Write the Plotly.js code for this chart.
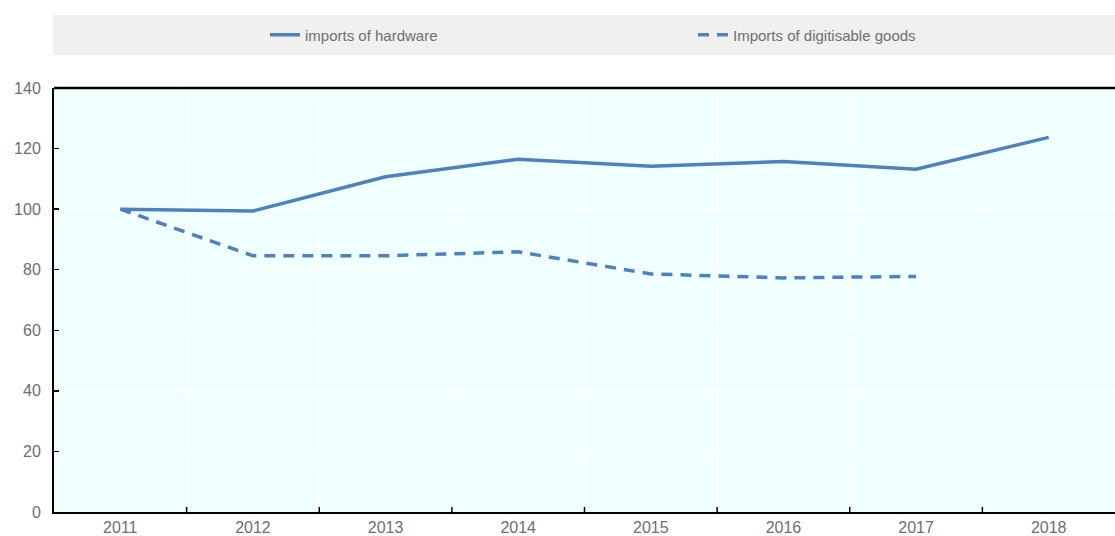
<!DOCTYPE html>
<html>
<head>
<meta charset="utf-8">
<script src="https://cdn.plot.ly/plotly-3.0.1.min.js"></script>
<style>html,body{margin:0;padding:0;background:#fff}#chart{width:1115px;height:536px}</style>
</head>
<body>
<div id="chart"></div>
<script>
const years = ["2011","2012","2013","2014","2015","2016","2017","2018"];
const hardware = [100, 99.4, 110.7, 116.5, 114.2, 115.7, 113.2, 123.7];
const digitisable = [100, 84.6, 84.6, 85.9, 78.6, 77.3, 77.8, null];
const yTicks = [0, 20, 40, 60, 80, 100, 120, 140];
const seriesNames = ["imports of hardware", "Imports of digitisable goods"];

const FONT = "'Liberation Sans Narrow', 'Arial Narrow', 'Liberation Sans', Arial, sans-serif";
const color = "#4F81BD";
const textGray = "#6E6E6E";

const traces = [
  {x: years, y: hardware, name: seriesNames[0], type: "scatter", mode: "lines",
   line: {color: color, width: 3.5}},
  {x: years, y: digitisable, name: seriesNames[1], type: "scatter", mode: "lines",
   line: {color: color, width: 3.5, dash: "11px,8px"}, connectgaps: false}
];

const layout = {
  width: 1115, height: 536,
  margin: {l: 54, r: 0, t: 88, b: 24, autoexpand: false},
  paper_bgcolor: "#ffffff",
  plot_bgcolor: "#F0FFFF",
  font: {family: FONT, color: textGray, size: 15},
  showlegend: true,
  legend: {
    orientation: "h", xref: "container", yref: "container",
    x: 0.6215, xanchor: "center", y: 1 - 35/536, yanchor: "middle",
    bgcolor: "rgba(0,0,0,0)", font: {family: FONT, size: 15, color: textGray},
    entrywidth: 383, entrywidthmode: "pixels"
  },
  xaxis: {
    type: "category", range: [-0.5, 7.5],
    showgrid: false, zeroline: false,
    showline: true, linecolor: "#000", linewidth: 2,
    ticks: "", tickfont: {family: FONT, size: 16, color: textGray},
    fixedrange: true
  },
  yaxis: {
    range: [0, 140], tickvals: yTicks, ticktext: yTicks.map(String),
    showgrid: true, gridcolor: "#ffffff", gridwidth: 1.5,
    zeroline: false, showline: true, linecolor: "#000", linewidth: 2,
    ticks: "inside", ticklen: 5, tickcolor: "#000", tickwidth: 1.5,
    tickfont: {family: FONT, size: 16, color: textGray},
    ticklabelstandoff: 8,
    fixedrange: true
  },
  shapes: [
    {type: "rect", xref: "paper", yref: "paper", x0: -0.001, x1: 1, y0: (512-55)/424, y1: (512-15)/424,
     fillcolor: "#F0F0F0", line: {width: 0}, layer: "below"},
    {type: "line", xref: "paper", yref: "paper", x0: 0, x1: 1, y0: 1, y1: 1,
     line: {color: "#000", width: 2.5}}
  ]
};

for (let i = 0; i < years.length - 1; i++) {
  layout.shapes.push({type: "line", xref: "x", yref: "paper", x0: i + 0.5, x1: i + 0.5, y0: 0, y1: 1,
    line: {color: "#ffffff", width: 1.5}, layer: "below"});
  layout.shapes.push({type: "line", xref: "x", yref: "paper", x0: i + 0.5, x1: i + 0.5, y0: 0, y1: 0.012,
    line: {color: "#000", width: 1.5}});
}

Plotly.newPlot("chart", traces, layout, {displayModeBar: false, staticPlot: true});
</script>
</body>
</html>
